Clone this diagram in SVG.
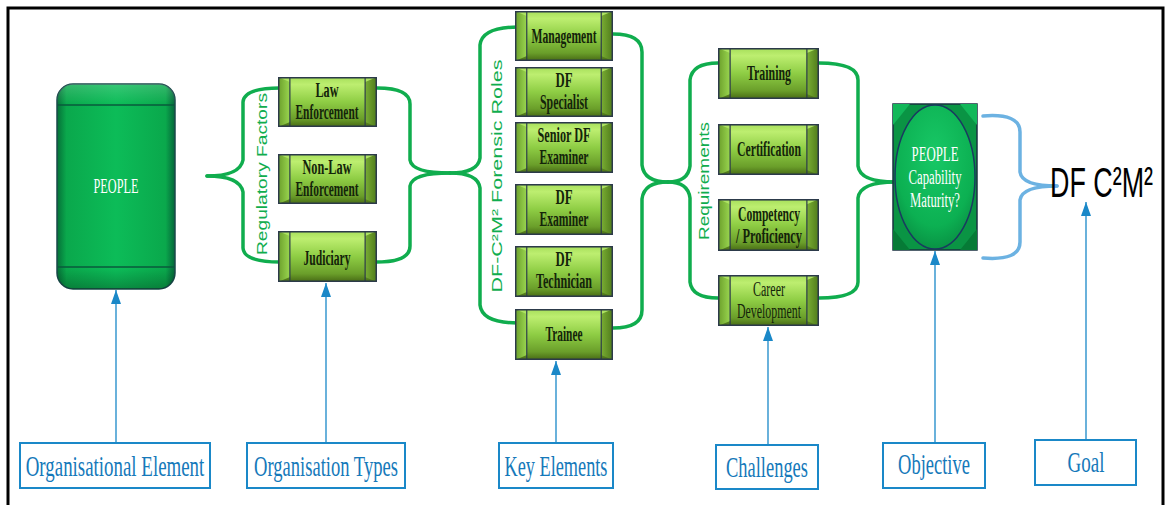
<svg xmlns="http://www.w3.org/2000/svg" width="1166" height="505" viewBox="0 0 1166 505">
<style>
.brace{fill:none;stroke:#10ad4e;stroke-width:3.5;stroke-linecap:round}
.bbrace{fill:none;stroke:#6cb2e2;stroke-width:3.5;stroke-linecap:round}
.conn{fill:none;stroke:#1a88c8;stroke-width:1.3}
.lbl{fill:#fff;stroke:#1a88c8;stroke-width:2}
.lt{font-family:"Liberation Serif",serif;font-size:29px;fill:#1579ba;text-anchor:middle}
.bt{font-family:"Liberation Serif",serif;font-size:20px;font-weight:bold;fill:#14240a;text-anchor:middle}
.bn{font-family:"Liberation Serif",serif;font-size:20px;fill:#14240a;text-anchor:middle}
.wt{font-family:"Liberation Serif",serif;font-size:20px;fill:#ffffff;text-anchor:middle}
.rot{font-family:"Liberation Sans",Arial,sans-serif;font-size:15px;fill:#10ad4e;text-anchor:middle}
</style>
<defs>
<linearGradient id="gBody" x1="0" y1="0" x2="0" y2="1">
<stop offset="0" stop-color="#a8e05c"/>
<stop offset="0.14" stop-color="#bdee70"/>
<stop offset="0.5" stop-color="#8ecd44"/>
<stop offset="0.85" stop-color="#6a9e2a"/>
<stop offset="1" stop-color="#4a6e16"/>
</linearGradient>
<linearGradient id="gEndL" x1="0" y1="0" x2="1" y2="0">
<stop offset="0" stop-color="#6a9e2a"/>
<stop offset="1" stop-color="#9ad650"/>
</linearGradient>
<linearGradient id="gEndR" x1="0" y1="0" x2="1" y2="0">
<stop offset="0" stop-color="#7aae34"/>
<stop offset="1" stop-color="#4e7a1a"/>
</linearGradient>
<linearGradient id="gPeople" x1="0" y1="0" x2="1" y2="0">
<stop offset="0" stop-color="#057038"/>
<stop offset="0.08" stop-color="#0aa84c"/>
<stop offset="0.5" stop-color="#0cbc58"/>
<stop offset="0.92" stop-color="#0aa84c"/>
<stop offset="1" stop-color="#05663a"/>
</linearGradient>
<linearGradient id="gPeopleV" x1="0" y1="0" x2="0" y2="1">
<stop offset="0" stop-color="#ffffff" stop-opacity="0.18"/>
<stop offset="0.1" stop-color="#ffffff" stop-opacity="0"/>
<stop offset="0.9" stop-color="#000000" stop-opacity="0"/>
<stop offset="1" stop-color="#000000" stop-opacity="0.25"/>
</linearGradient>
<radialGradient id="gEll" cx="0.5" cy="0.35" r="0.7">
<stop offset="0" stop-color="#18c866"/>
<stop offset="0.7" stop-color="#0cb052"/>
<stop offset="1" stop-color="#088a40"/>
</radialGradient>
<symbol id="tile" viewBox="0 0 100 50" preserveAspectRatio="none">
<rect x="0.75" y="0.75" width="98.5" height="48.5" fill="url(#gBody)"/>
<polygon points="0,0 12,5 12,45 0,50" fill="url(#gEndL)"/>
<polygon points="100,0 88,5 88,45 100,50" fill="url(#gEndR)"/>
<line x1="12" y1="0" x2="12" y2="50" stroke="#2c3a4a" stroke-width="1.2"/>
<line x1="88" y1="0" x2="88" y2="50" stroke="#2c3a4a" stroke-width="1.2"/>
<rect x="0.75" y="0.75" width="98.5" height="48.5" fill="none" stroke="#2c3a4a" stroke-width="1.5"/>
</symbol>
<marker id="ah" viewBox="0 0 14 10" refX="14" refY="5" markerWidth="14" markerHeight="10" markerUnits="userSpaceOnUse" orient="auto">
<path d="M0,0 L14,5 L0,10 Z" fill="#1a88c8"/>
</marker>
</defs>
<rect width="1166" height="505" fill="#ffffff"/>
<path d="M8,506 L8,8 L1163,8 L1163,506" fill="none" stroke="#000" stroke-width="3"/>

<g id="connectors">
<path class="brace" d="M207,176 Q240,176 243,160 L243,102 Q244,88 280,88"/>
<path class="brace" d="M207,176 Q240,176 243,192 L243,248 Q244,262 280,262"/>
<path class="brace" d="M377,88 Q410,88 410,104 L410,160 Q412,173 450,173"/>
<path class="brace" d="M377,262 Q410,262 410,246 L410,186 Q412,173 450,173"/>
<path class="brace" d="M450,173 Q478,173 480,158 L480,45 Q482,27 518,27"/>
<path class="brace" d="M450,173 Q478,173 480,188 L480,305 Q482,323 518,323"/>
<path class="brace" d="M613,34 Q642,34 642,52 L642,165 Q644,182 668,182"/>
<path class="brace" d="M613,328 Q642,328 642,310 L642,199 Q644,182 668,182"/>
<path class="brace" d="M668,182 Q688,182 690,166 L690,80 Q692,63 718,63"/>
<path class="brace" d="M668,182 Q688,182 690,198 L690,282 Q692,298 718,298"/>
<path class="brace" d="M819,63 Q858,63 858,80 L858,166 Q860,182 895,182"/>
<path class="brace" d="M819,298 Q858,298 858,282 L858,198 Q860,182 895,182"/>
<path class="bbrace" d="M983,116 Q1020,113 1020,132 L1020,172 Q1022,186 1057,186"/>
<path class="bbrace" d="M983,258 Q1020,261 1020,242 L1020,200 Q1022,186 1057,186"/>
<line class="conn" x1="116" y1="443" x2="116" y2="290" marker-end="url(#ah)"/>
<line class="conn" x1="326" y1="443" x2="326" y2="283" marker-end="url(#ah)"/>
<line class="conn" x1="556" y1="443" x2="556" y2="361" marker-end="url(#ah)"/>
<line class="conn" x1="768" y1="445" x2="768" y2="327" marker-end="url(#ah)"/>
<line class="conn" x1="935" y1="443" x2="935" y2="251" marker-end="url(#ah)"/>
<line class="conn" x1="1086" y1="440" x2="1086" y2="202" marker-end="url(#ah)"/>
</g>

<text class="rot" transform="translate(267,174) rotate(-90)" textLength="162" lengthAdjust="spacingAndGlyphs">Regulatory Factors</text>
<text class="rot" transform="translate(502,176) rotate(-90)" textLength="233" lengthAdjust="spacingAndGlyphs">DF-C²M² Forensic Roles</text>
<text class="rot" transform="translate(709,181) rotate(-90)" textLength="118" lengthAdjust="spacingAndGlyphs">Requirements</text>

<g id="people">
<rect x="57" y="84" width="118" height="205" rx="16" fill="url(#gPeople)" stroke="#1a4a4a" stroke-width="1.5"/>
<rect x="57" y="84" width="118" height="205" rx="16" fill="url(#gPeopleV)"/>
<line x1="58" y1="105" x2="174" y2="105" stroke="#0a5a3c" stroke-width="1.5"/>
<line x1="58" y1="267" x2="174" y2="267" stroke="#0a5a3c" stroke-width="1.5"/>
<text class="wt" x="116" y="193" textLength="45" lengthAdjust="spacingAndGlyphs">PEOPLE</text>
</g>

<g id="law-enforcement">
<use href="#tile" x="278" y="77" width="99" height="50"/>
<text class="bt" x="327" y="97" textLength="23" lengthAdjust="spacingAndGlyphs">Law</text>
<text class="bt" x="327" y="119" textLength="63" lengthAdjust="spacingAndGlyphs">Enforcement</text>
</g>
<g id="non-law-enforcement">
<use href="#tile" x="278" y="154" width="99" height="50"/>
<text class="bt" x="327" y="174" textLength="49" lengthAdjust="spacingAndGlyphs">Non-Law</text>
<text class="bt" x="327" y="196" textLength="63" lengthAdjust="spacingAndGlyphs">Enforcement</text>
</g>
<g id="judiciary">
<use href="#tile" x="278" y="231" width="99" height="51"/>
<text class="bt" x="327" y="265" textLength="47" lengthAdjust="spacingAndGlyphs">Judiciary</text>
</g>

<g id="management">
<use href="#tile" x="515" y="11" width="98" height="50"/>
<text class="bt" x="564" y="43" textLength="65" lengthAdjust="spacingAndGlyphs">Management</text>
</g>
<g id="df-specialist">
<use href="#tile" x="515" y="67" width="98" height="50"/>
<text class="bt" x="564" y="87" textLength="17" lengthAdjust="spacingAndGlyphs">DF</text>
<text class="bt" x="564" y="109" textLength="48" lengthAdjust="spacingAndGlyphs">Specialist</text>
</g>
<g id="senior-df-examiner">
<use href="#tile" x="515" y="122" width="98" height="51"/>
<text class="bt" x="564" y="142" textLength="53" lengthAdjust="spacingAndGlyphs">Senior DF</text>
<text class="bt" x="564" y="164" textLength="49" lengthAdjust="spacingAndGlyphs">Examiner</text>
</g>
<g id="df-examiner">
<use href="#tile" x="515" y="184" width="98" height="51"/>
<text class="bt" x="564" y="204" textLength="17" lengthAdjust="spacingAndGlyphs">DF</text>
<text class="bt" x="564" y="226" textLength="49" lengthAdjust="spacingAndGlyphs">Examiner</text>
</g>
<g id="df-technician">
<use href="#tile" x="515" y="246" width="98" height="51"/>
<text class="bt" x="564" y="266" textLength="17" lengthAdjust="spacingAndGlyphs">DF</text>
<text class="bt" x="564" y="288" textLength="56" lengthAdjust="spacingAndGlyphs">Technician</text>
</g>
<g id="trainee">
<use href="#tile" x="515" y="309" width="98" height="51"/>
<text class="bt" x="564" y="341" textLength="37" lengthAdjust="spacingAndGlyphs">Trainee</text>
</g>

<g id="training">
<use href="#tile" x="718" y="48" width="101" height="51"/>
<text class="bt" x="769" y="80" textLength="44" lengthAdjust="spacingAndGlyphs">Training</text>
</g>
<g id="certification">
<use href="#tile" x="718" y="124" width="101" height="51"/>
<text class="bt" x="769" y="156" textLength="64" lengthAdjust="spacingAndGlyphs">Certification</text>
</g>
<g id="competency">
<use href="#tile" x="718" y="199" width="101" height="52"/>
<text class="bt" x="769" y="221" textLength="62" lengthAdjust="spacingAndGlyphs">Competency</text>
<text class="bt" x="769" y="243" textLength="66" lengthAdjust="spacingAndGlyphs">/ Proficiency</text>
</g>
<g id="career-development">
<use href="#tile" x="718" y="275" width="101" height="51"/>
<text class="bn" x="769" y="296" textLength="32" lengthAdjust="spacingAndGlyphs">Career</text>
<text class="bn" x="769" y="318" textLength="64" lengthAdjust="spacingAndGlyphs">Development</text>
</g>

<g id="objective-node">
<rect x="893" y="104" width="84" height="146" fill="#0a9444" stroke="#1a3040" stroke-width="1.5"/>
<polygon points="893,104 910,104 893,125" fill="#12b85a"/>
<polygon points="977,104 960,104 977,125" fill="#12b85a"/>
<polygon points="893,250 910,250 893,229" fill="#067a36"/>
<polygon points="977,250 960,250 977,229" fill="#067a36"/>
<ellipse cx="935" cy="177" rx="40" ry="72" fill="url(#gEll)" stroke="#1a3a60" stroke-width="1.5"/>
<text class="wt" x="935" y="161" textLength="47" lengthAdjust="spacingAndGlyphs">PEOPLE</text>
<text class="wt" x="935" y="184" textLength="53" lengthAdjust="spacingAndGlyphs">Capability</text>
<text class="wt" x="935" y="207" textLength="50" lengthAdjust="spacingAndGlyphs">Maturity?</text>
</g>

<g id="goal-text">
<text transform="translate(1050,197) scale(0.64,1)" x="0" y="0" font-family="'Liberation Sans',Arial,sans-serif" font-size="42" fill="#000">DF C²M²</text>
</g>

<g id="label-organisational-element">
<rect class="lbl" x="20" y="443" width="190" height="45"/>
<text class="lt" transform="translate(115,476) scale(0.652,1)">Organisational Element</text>
</g>
<g id="label-organisation-types">
<rect class="lbl" x="247" y="443" width="158" height="45"/>
<text class="lt" transform="translate(326,476) scale(0.64,1)">Organisation Types</text>
</g>
<g id="label-key-elements">
<rect class="lbl" x="499" y="443" width="114" height="45"/>
<text class="lt" transform="translate(556,476) scale(0.63,1)">Key Elements</text>
</g>
<g id="label-challenges">
<rect class="lbl" x="716" y="445" width="102" height="44"/>
<text class="lt" transform="translate(767,477) scale(0.636,1)">Challenges</text>
</g>
<g id="label-objective">
<rect class="lbl" x="883" y="443" width="102" height="45"/>
<text class="lt" transform="translate(934,474) scale(0.638,1)">Objective</text>
</g>
<g id="label-goal">
<rect class="lbl" x="1035" y="440" width="101" height="45"/>
<text class="lt" transform="translate(1086,472) scale(0.656,1)">Goal</text>
</g>
</svg>
